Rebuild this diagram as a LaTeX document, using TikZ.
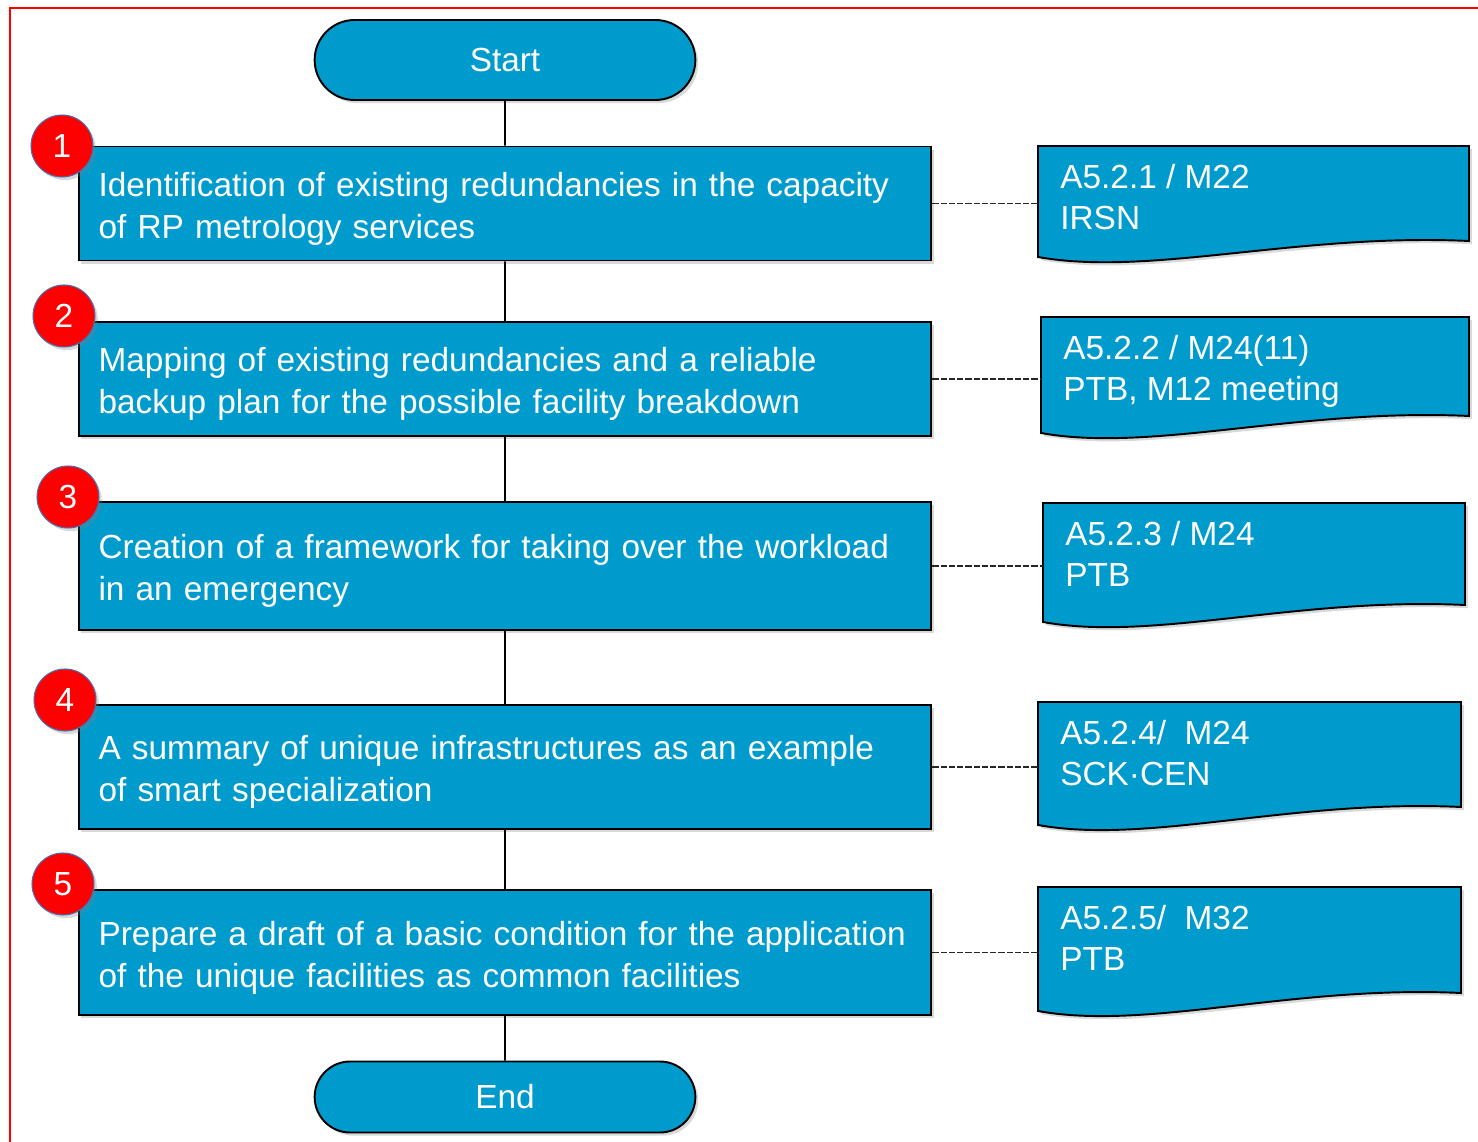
\documentclass[tikz,border=0pt]{standalone}
\usepackage{fontspec}
\setmainfont{Liberation Sans}
\usetikzlibrary{shapes.misc}
\usetikzlibrary{shadows}
\usetikzlibrary{positioning}

\definecolor{flowblue}{HTML}{009BCD}
\definecolor{ringblue}{HTML}{4A6FB0}
\newcommand{\flowfont}{\fontsize{19}{23.7}\selectfont}

\tikzset{
  boxshadow/.style={drop shadow={shadow xshift=1.6pt,shadow yshift=-1.8pt,opacity=0.3}},
  terminal/.style={rounded rectangle,draw=black,line width=1.1pt,fill=flowblue,text=white,
    minimum width=7.85cm,font=\flowfont,boxshadow},
  stepbox/.style={rectangle,draw=black,line width=1.1pt,fill=flowblue,text=white,
    text width=16.26cm,inner xsep=0.4cm,align=left,font=\flowfont,boxshadow,
    execute at begin node={\rule{0pt}{19.6pt}}},
  badge/.style={circle,draw=ringblue,line width=0.6pt,fill=red,text=white,
    minimum size=1.24cm,inner sep=0pt,font=\flowfont,boxshadow},
  doctext/.style={anchor=north west,text=white,align=left,inner xsep=0.44cm,inner ysep=0.35cm,font=\flowfont},
  link/.style={line width=1.1pt},
  tie/.style={line width=1.1pt,black!85,dash pattern=on 3.5pt off 1.2pt},
}

\begin{document}
\begin{tikzpicture}[x=0.02cm,y=-0.02cm]
      \useasboundingbox (0,0) rectangle (1478,1142);
      \draw[red,line width=1.1pt] (10,1142) -- (10,8) -- (1478,8);
      \node[terminal,minimum height=1.6cm] (start) at (505,60) {Start};
      \node[terminal,minimum height=1.42cm] (end) at (505,1097) {End};
      \foreach\i/\y/\h/\txt in {1/203.5/2.28/{Identification of existing redundancies in the capacity\\of RP metrology services},
                                2/379/2.28/{Mapping of existing redundancies and a reliable\\backup plan for the possible facility breakdown},
                                3/566/2.56/{Creation of a framework for taking over the workload\\in an emergency},
                                4/767/2.48/{A summary of unique infrastructures as an example\\of smart specialization},
                                5/952.5/2.5/{Prepare a draft of a basic condition for the application\\of the unique facilities as common facilities}} {
	\node[stepbox,minimum height=\h cm] (s\i) at (505,\y) {\txt};
      }
      \draw[link] (start) -- (s1) (s1) -- (s2) (s2) -- (s3) (s3) -- (s4) (s4) -- (s5) (s5) -- (end);
      \foreach\i/\x/\y in {1/62/146,2/64/316,3/68/497,4/65/700,5/63/884} {
	\node[badge] (n\i) at (\x,\y) {\i};
      }
      \foreach\i/\xl/\yt/\xr/\yl/\yr/\txt in {1/1038/146/1469/257/241/{A5.2.1 / M22\\IRSN},
                                           2/1041/317/1469/433/416/{A5.2.2 / M24(11)\\PTB, M12 meeting},
                                           3/1043/503/1465/622/605/{A5.2.3 / M24\\PTB},
                                           4/1038/702/1461/825/807/{A5.2.4/~~M24\\SCK·CEN},
                                           5/1038/887/1461/1011/993/{A5.2.5/~~M32\\PTB}} {
	\filldraw[fill=flowblue,draw=black,line width=1.1pt,boxshadow] (\xl,\yt) -- (\xr,\yt) -- (\xr,\yr)
	  .. controls ({\xl+0.6*(\xr-\xl)},{\yr-8}) and ({\xl+0.26*(\xr-\xl)},{\yl+20}) .. (\xl,\yl) -- cycle;
	\node[doctext] (d\i) at (\xl,\yt) {\txt};
	\draw[tie] (s\i.east) -- (s\i.east -| d\i.west);
      }
\end{tikzpicture}
\end{document}
